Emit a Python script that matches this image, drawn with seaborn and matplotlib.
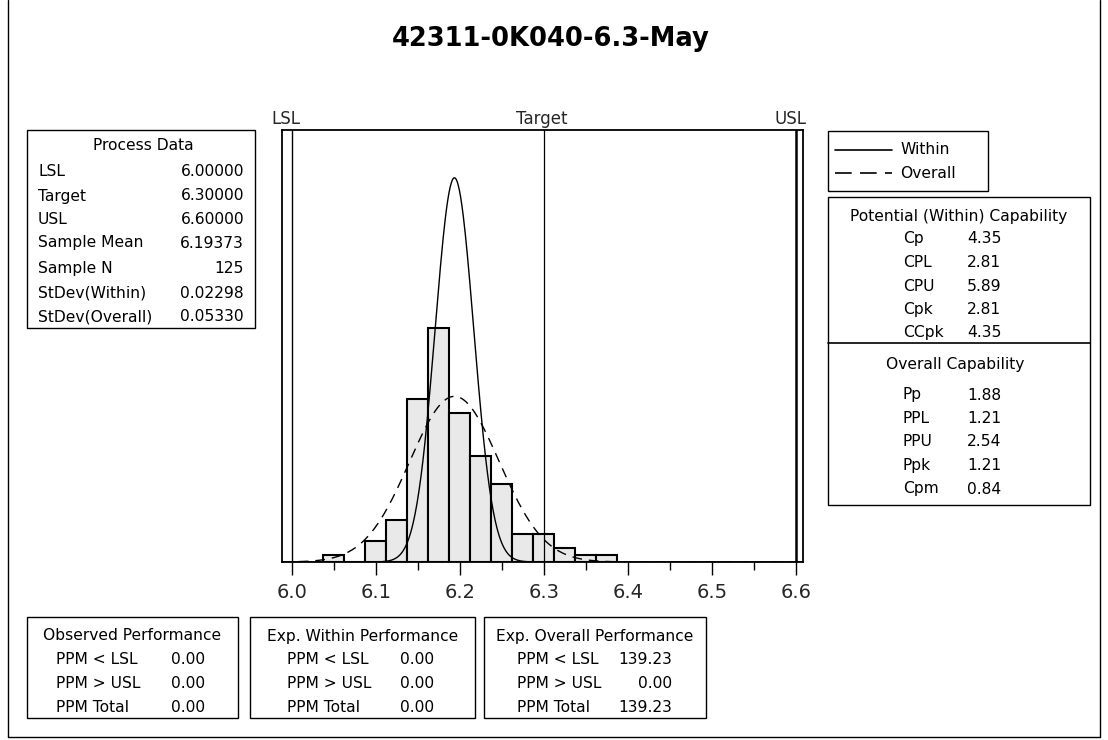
import numpy as np
import pandas as pd
import matplotlib
matplotlib.use("Agg")
import matplotlib.pyplot as plt
import matplotlib.transforms as mtransforms
from matplotlib.patches import Rectangle
from matplotlib.lines import Line2D
import seaborn as sns

# ---------------- data ----------------
title = "42311-0K040-6.3-May"
bin_centers = [6.050, 6.075, 6.100, 6.125, 6.150, 6.175, 6.200,
               6.225, 6.250, 6.275, 6.300, 6.325, 6.350, 6.375]
counts = [1, 0, 3, 6, 23, 33, 21, 15, 11, 4, 4, 2, 1, 1]
lsl, target, usl = 6.0, 6.3, 6.6
sample_mean = 6.19373
sample_n = 125
sd_within = 0.02298
sd_overall = 0.05330
xticks = [6.0, 6.1, 6.2, 6.3, 6.4, 6.5, 6.6]
xtick_labels = ["6.0", "6.1", "6.2", "6.3", "6.4", "6.5", "6.6"]

process_labels = ["LSL", "Target", "USL", "Sample Mean", "Sample N",
                  "StDev(Within)", "StDev(Overall)"]
process_values = ["6.00000", "6.30000", "6.60000", "6.19373", "125",
                  "0.02298", "0.05330"]
within_cap_labels = ["Cp", "CPL", "CPU", "Cpk", "CCpk"]
within_cap_values = ["4.35", "2.81", "5.89", "2.81", "4.35"]
overall_cap_labels = ["Pp", "PPL", "PPU", "Ppk", "Cpm"]
overall_cap_values = ["1.88", "1.21", "2.54", "1.21", "0.84"]
perf_labels = ["PPM < LSL", "PPM > USL", "PPM Total"]
observed_values = ["0.00", "0.00", "0.00"]
exp_within_values = ["0.00", "0.00", "0.00"]
exp_overall_values = ["139.23", "0.00", "139.23"]

# ---------------- figure ----------------
W, H = 1108, 740
FS = 11.2
sns.set_style("white")
plt.rcParams["font.family"] = ["DejaVu Sans"]
fig = plt.figure(figsize=(W / 100, H / 100), dpi=100)
fig.patch.set_facecolor("white")


def fx(x):
    return x / W


def fy(y):
    return 1 - y / H


def box(x0, y0, x1, y1, lw=1.0):
    fig.add_artist(Rectangle((fx(x0), fy(y1)), fx(x1) - fx(x0), fy(y0) - fy(y1),
                             transform=fig.transFigure, fill=False,
                             edgecolor="black", linewidth=lw))


def hline(x0, x1, y, lw=1.0, ls="-"):
    fig.add_artist(Line2D([fx(x0), fx(x1)], [fy(y), fy(y)], transform=fig.transFigure,
                          color="black", linewidth=lw, linestyle=ls))


def txt(x, y, s, ha="left", size=FS, **kw):
    fig.text(fx(x), fy(y), s, ha=ha, va="center", fontsize=size, color="black", **kw)


# outer border
fig.add_artist(Line2D([fx(8), fx(8)], [fy(0), fy(737)], transform=fig.transFigure, color="black", lw=1))
fig.add_artist(Line2D([fx(1100), fx(1100)], [fy(0), fy(737)], transform=fig.transFigure, color="black", lw=1))
fig.add_artist(Line2D([fx(8), fx(1100)], [fy(737), fy(737)], transform=fig.transFigure, color="black", lw=1))

# title
txt(551, 39, title, ha="center", size=18.5, fontweight="bold")

# ---------------- histogram axes ----------------
ax_l, ax_r, ax_t, ax_b = 282, 803, 130, 562
ax = fig.add_axes([fx(ax_l), fy(ax_b), fx(ax_r) - fx(ax_l), fy(ax_t) - fy(ax_b)])

centers = np.array(bin_centers)
bw = float(centers[1] - centers[0])
lo = float(centers[0] - bw / 2)
hi = float(centers[-1] + bw / 2)
hist_df = pd.DataFrame({"value": centers, "count": counts})
sns.histplot(data=hist_df, x="value", weights="count", binwidth=bw, binrange=(lo, hi),
             ax=ax, stat="count", color="#e9e9e9", edgecolor="black",
             linewidth=1.5, alpha=1.0)

xmin = lsl + (ax_l - 291.7) / 840.0
xmax = lsl + (ax_r - 291.7) / 840.0
xs = np.linspace(xmin, xmax, 800)
scale = sample_n * bw
y_within = scale * np.exp(-0.5 * ((xs - sample_mean) / sd_within) ** 2) / (sd_within * np.sqrt(2 * np.pi))
y_overall = scale * np.exp(-0.5 * ((xs - sample_mean) / sd_overall) ** 2) / (sd_overall * np.sqrt(2 * np.pi))
curves = pd.DataFrame({"x": xs, "within": y_within, "overall": y_overall})
sns.lineplot(data=curves, x="x", y="within", ax=ax, color="black", linewidth=1.0)
sns.lineplot(data=curves, x="x", y="overall", ax=ax, color="black", linewidth=1.0,
             linestyle=(0, (7, 5)))

ax.axvline(lsl, color="black", linewidth=1.0)
ax.axvline(target, color="black", linewidth=0.9)
ax.axvline(usl, color="black", linewidth=1.8)

ax.set_xlim(xmin, xmax)
ax.set_ylim(0, 61)
ax.set_yticks([])
ax.set_xticks(xticks)
ax.set_xticklabels(xtick_labels, fontsize=14)
ax.set_xticks(np.arange(6.05, 6.6, 0.1), minor=True)
ax.tick_params(axis="x", which="major", direction="out", length=9, width=1, color="black", pad=6, bottom=True)
ax.tick_params(axis="x", which="minor", direction="out", length=6, width=1, color="black", bottom=True)
ax.set_xlabel("")
ax.set_ylabel("")
for sp in ax.spines.values():
    sp.set_visible(True)
    sp.set_color("black")
    sp.set_linewidth(1.3)

# spec-limit labels above the plot (slightly left of each line, as in the original)
for xv, lab, dx in [(lsl, "LSL", -6), (target, "Target", -2), (usl, "USL", -5)]:
    off = mtransforms.offset_copy(ax.transData, fig=fig, x=dx, y=0, units="dots")
    t2 = mtransforms.blended_transform_factory(off, ax.transAxes)
    ax.text(xv, 1.005, lab, transform=t2, ha="center", va="bottom", fontsize=12)

# ---------------- Process Data ----------------
box(27, 130, 255, 328)
txt(143, 146, "Process Data", ha="center")
rows_y = [172, 196, 219, 243, 268, 293, 317]
for lab, val, yy in zip(process_labels, process_values, rows_y):
    txt(38, yy, lab)
    txt(244, yy, val, ha="right")

# ---------------- legend ----------------
box(828, 131, 988, 191)
hline(835, 892, 150, lw=1.2)
txt(900, 150, "Within")
hline(835, 892, 173, lw=1.2, ls=(0, (10, 5)))
txt(900, 173, "Overall")

# ---------------- capability ----------------
box(828, 197, 1090, 505)
hline(828, 1090, 343, lw=1.2)
txt(959, 216, "Potential (Within) Capability", ha="center")
for i, (lab, val) in enumerate(zip(within_cap_labels, within_cap_values)):
    yy = 239 + i * 23.5
    txt(903, yy, lab)
    txt(967, yy, val)
txt(955, 365, "Overall Capability", ha="center")
for i, (lab, val) in enumerate(zip(overall_cap_labels, overall_cap_values)):
    yy = 395 + i * 23.5
    txt(903, yy, lab)
    txt(967, yy, val)

# ---------------- performance boxes ----------------
perf_boxes = [
    (27, 238, "Observed Performance", observed_values, 56, 205),
    (250, 475, "Exp. Within Performance", exp_within_values, 287, 434),
    (484, 706, "Exp. Overall Performance", exp_overall_values, 517, 672),
]
for x0, x1, head, vals, lx, vx in perf_boxes:
    box(x0, 617, x1, 718)
    txt((x0 + x1) / 2, 636, head, ha="center")
    for i, (lab, val) in enumerate(zip(perf_labels, vals)):
        yy = 660 + i * 24
        txt(lx, yy, lab)
        txt(vx, yy, val, ha="right")

fig.savefig("out.png", dpi=100, facecolor="white")
